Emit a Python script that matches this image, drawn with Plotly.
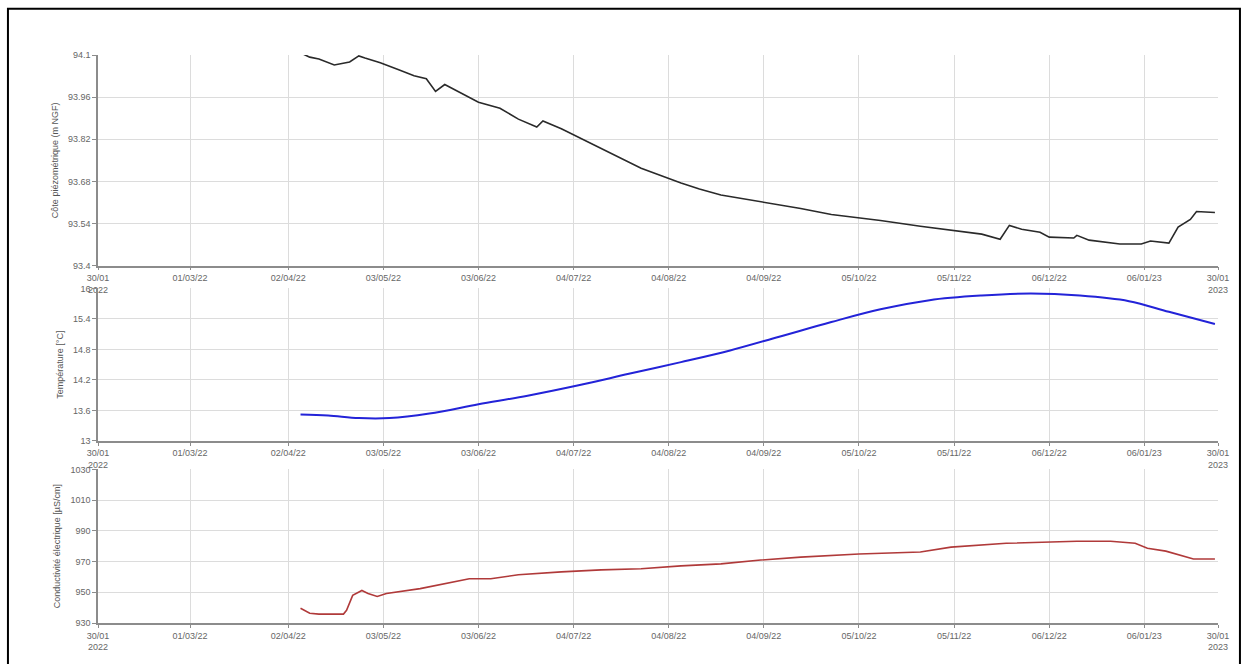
import plotly.graph_objects as go
from plotly.subplots import make_subplots

# Piezometric level (m NGF)
piezo_dates = [
    "2022-04-06", "2022-04-09", "2022-04-12", "2022-04-17", "2022-04-22", "2022-04-25",
    "2022-04-27", "2022-05-02", "2022-05-08", "2022-05-13", "2022-05-17", "2022-05-20",
    "2022-05-23", "2022-05-28", "2022-06-03", "2022-06-10", "2022-06-16", "2022-06-22",
    "2022-06-24", "2022-06-30", "2022-07-13", "2022-07-26", "2022-08-08", "2022-08-14",
    "2022-08-21", "2022-09-03", "2022-09-16", "2022-09-26", "2022-10-12", "2022-10-25",
    "2022-11-07", "2022-11-14", "2022-11-20", "2022-11-23", "2022-11-27", "2022-12-03",
    "2022-12-06", "2022-12-14", "2022-12-15", "2022-12-19", "2022-12-29", "2023-01-05",
    "2023-01-08", "2023-01-14", "2023-01-17", "2023-01-21", "2023-01-23", "2023-01-29",
]
piezo_values = [
    94.107, 94.093, 94.087, 94.067, 94.077, 94.097,
    94.090, 94.074, 94.051, 94.031, 94.021, 93.979,
    94.002, 93.976, 93.943, 93.923, 93.887, 93.861,
    93.881, 93.855, 93.789, 93.724, 93.675, 93.655,
    93.635, 93.613, 93.590, 93.570, 93.550, 93.531,
    93.514, 93.505, 93.488, 93.534, 93.521, 93.511,
    93.495, 93.492, 93.501, 93.485, 93.472, 93.472,
    93.482, 93.475, 93.528, 93.554, 93.580, 93.577,
]

# Water temperature (°C)
temp_dates = [
    "2022-04-06", "2022-04-15", "2022-04-25", "2022-05-05", "2022-05-18", "2022-06-03",
    "2022-06-19", "2022-07-06", "2022-07-22", "2022-08-08", "2022-08-24", "2022-09-09",
    "2022-09-26", "2022-10-12", "2022-10-28", "2022-11-14", "2022-11-30", "2022-12-16",
    "2023-01-01", "2023-01-14", "2023-01-29",
]
temp_values = [
    13.52, 13.50, 13.45, 13.45, 13.54, 13.72,
    13.89, 14.10, 14.32, 14.55, 14.78, 15.05,
    15.34, 15.59, 15.77, 15.86, 15.90, 15.86,
    15.75, 15.54, 15.30,
]

# Electrical conductivity (µS/cm)
cond_dates = [
    "2022-04-06", "2022-04-09", "2022-04-12", "2022-04-20", "2022-04-21", "2022-04-23",
    "2022-04-26", "2022-04-28", "2022-05-01", "2022-05-04", "2022-05-15", "2022-05-26",
    "2022-05-31", "2022-06-07", "2022-06-16", "2022-06-30", "2022-07-13", "2022-07-26",
    "2022-08-08", "2022-08-21", "2022-09-03", "2022-09-16", "2022-10-05", "2022-10-25",
    "2022-11-04", "2022-11-22", "2022-12-15", "2022-12-26", "2023-01-03", "2023-01-07",
    "2023-01-13", "2023-01-22", "2023-01-29",
]
cond_values = [
    939.6, 936.4, 935.8, 935.8, 938.3, 948.0,
    951.2, 949.2, 947.3, 949.2, 952.4, 956.9,
    958.8, 958.8, 961.4, 963.3, 964.6, 965.3,
    967.2, 968.5, 971.0, 972.9, 974.9, 976.2,
    979.4, 981.9, 983.2, 983.2, 981.9, 978.7,
    976.8, 971.7, 971.7,
]

# Shared time axis ticks
x_range = ["2022-01-30", "2023-01-30"]
x_tickvals = [
    "2022-01-30", "2022-03-01", "2022-04-02", "2022-05-03", "2022-06-03", "2022-07-04",
    "2022-08-04", "2022-09-04", "2022-10-05", "2022-11-05", "2022-12-06", "2023-01-06",
    "2023-01-30",
]
x_ticktext = [
    "30/01<br>2022", "01/03/22", "02/04/22", "03/05/22", "03/06/22", "04/07/22",
    "04/08/22", "04/09/22", "05/10/22", "05/11/22", "06/12/22", "06/01/23",
    "30/01<br>2023",
]

piezo_ticks = [93.4, 93.54, 93.68, 93.82, 93.96, 94.1]
piezo_ticktext = ["93.4", "93.54", "93.68", "93.82", "93.96", "94.1"]
temp_ticks = [13.0, 13.6, 14.2, 14.8, 15.4, 16.0]
temp_ticktext = ["13", "13.6", "14.2", "14.8", "15.4", "16"]
cond_ticks = [930, 950, 970, 990, 1010, 1030]
cond_ticktext = ["930", "950", "970", "990", "1010", "1030"]

fig = make_subplots(rows=3, cols=1)

fig.add_trace(go.Scatter(x=piezo_dates, y=piezo_values, mode="lines",
                         line=dict(color="#2a2a2a", width=1.6)), row=1, col=1)
fig.add_trace(go.Scatter(x=temp_dates, y=temp_values, mode="lines", line_shape="spline",
                         line=dict(color="#2323d8", width=2)), row=2, col=1)
fig.add_trace(go.Scatter(x=cond_dates, y=cond_values, mode="lines",
                         line=dict(color="#b03a3a", width=1.6)), row=3, col=1)

grid = "#dcdcdc"
axis_line = "#8c8c8c"
tick_font = dict(family="Liberation Sans, Arial, sans-serif", size=9, color="#666666")

domains = [[0.629, 1.0], [0.3206, 0.589], [0.0, 0.2704]]
titles = ["Côte piézométrique (m NGF)", "Température [°C]", "Conductivité électrique [µS/cm]"]
yticks = [(piezo_ticks, piezo_ticktext, [93.4, 94.1]),
          (temp_ticks, temp_ticktext, [13.0, 16.0]),
          (cond_ticks, cond_ticktext, [930, 1030])]

for i in range(3):
    xa = "xaxis" if i == 0 else f"xaxis{i + 1}"
    ya = "yaxis" if i == 0 else f"yaxis{i + 1}"
    tv, tt, rng = yticks[i]
    fig.update_layout({
        xa: dict(type="date", range=x_range, tickmode="array", tickvals=x_tickvals,
                 ticktext=x_ticktext, showgrid=True, gridcolor=grid, gridwidth=1,
                 showline=True, linecolor=axis_line, linewidth=1.5, ticks="outside",
                 ticklen=3, tickcolor=axis_line, tickfont=tick_font, zeroline=False,
                 tickangle=0),
        ya: dict(domain=domains[i], range=rng, tickmode="array", tickvals=tv, ticktext=tt,
                 showgrid=True, gridcolor=grid, gridwidth=1, showline=True,
                 linecolor=axis_line, linewidth=1.5, ticks="outside", ticklen=4,
                 tickcolor=axis_line, tickfont=tick_font, zeroline=False,
                 title=dict(text=titles[i], standoff=8,
                            font=dict(family="Liberation Sans, Arial, sans-serif",
                                      size=9, color="#555555"))),
    })

# Outer frame around the whole figure
fig.add_shape(type="rect", xref="paper", yref="paper",
              x0=-0.0804, x1=1.0196, y0=-0.08, y1=1.0815,
              line=dict(color="black", width=2), fillcolor="rgba(0,0,0,0)")

fig.update_layout(
    width=1243, height=664,
    margin=dict(l=98, r=25, t=55, b=32),
    paper_bgcolor="white", plot_bgcolor="white",
    showlegend=False,
)

fig.write_html("out.html")
